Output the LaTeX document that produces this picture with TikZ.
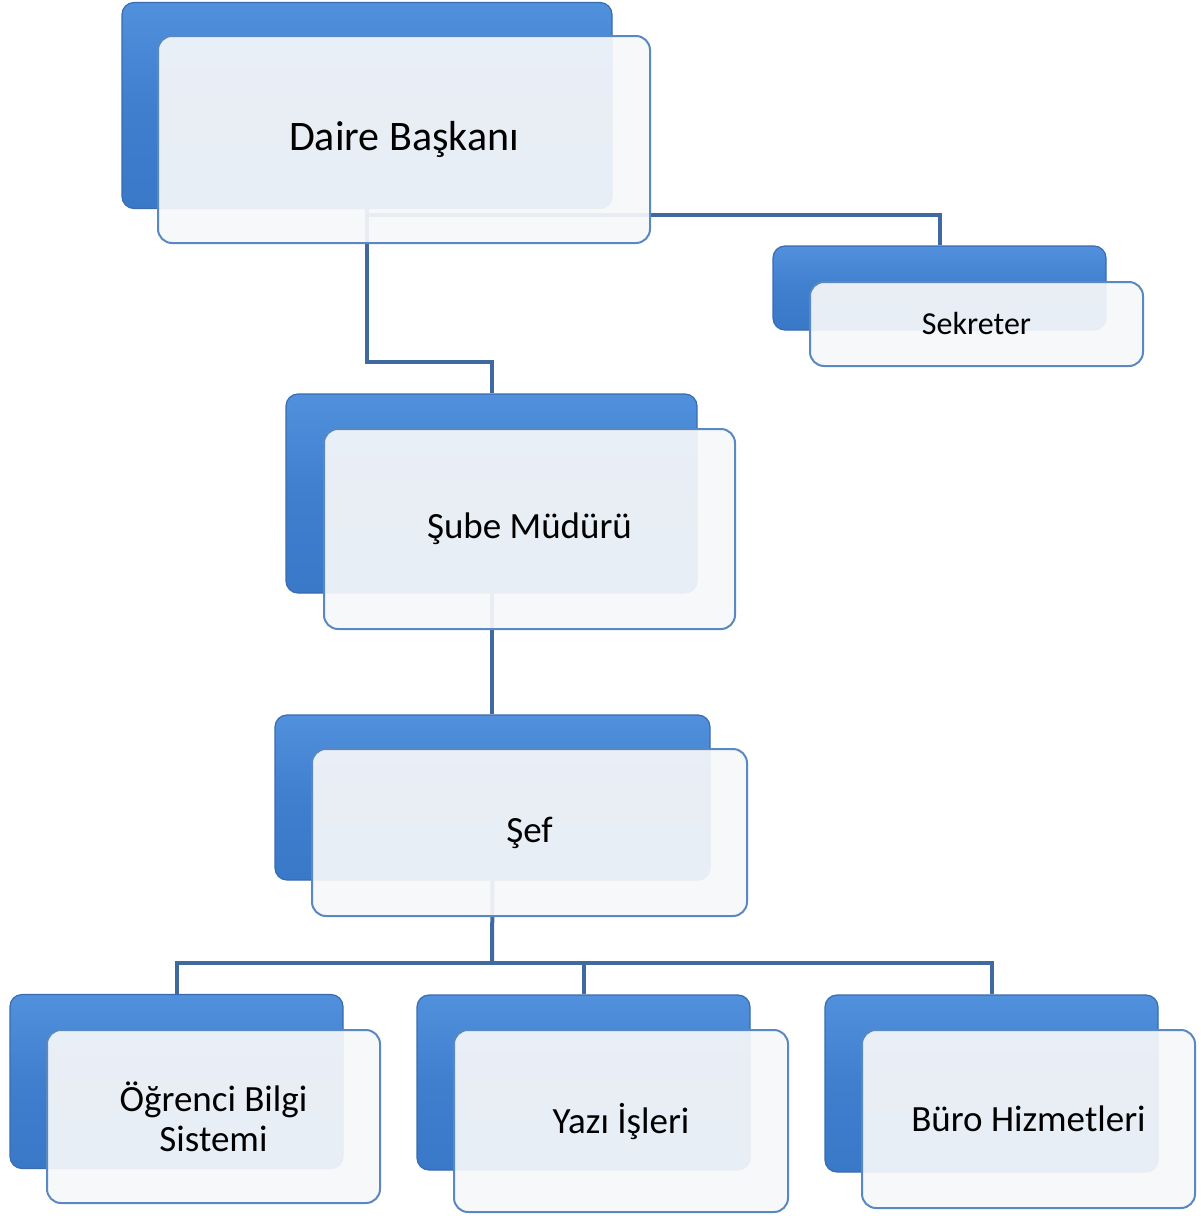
\documentclass[tikz,border=0pt]{standalone}
\usepackage{fontspec}
\setmainfont{Carlito}
\usetikzlibrary{positioning,calc}

\definecolor{linkblue}{HTML}{4069A0}
\definecolor{backtop}{HTML}{5090DC}
\definecolor{backmid}{HTML}{3F7FCE}
\definecolor{backbot}{HTML}{3A78C8}
\definecolor{backline}{HTML}{3A6BAE}
\definecolor{frontline}{HTML}{5A88C2}
\definecolor{frontfill}{HTML}{F6F7F9}

\begin{document}
\begin{tikzpicture}[
            x=0.5pt, y=-0.5pt,
            vback/.style={rectangle,rounded corners=6pt,draw=backline,line width=0.6pt,
                          top color=backtop,bottom color=backbot,middle color=backmid,inner sep=0pt},
            vfront/.style={rectangle,rounded corners=7pt,draw=frontline,line width=1pt,
                           fill=frontfill,fill opacity=0.93,text opacity=1,
                           inner sep=0pt,align=center,font=\fontsize{18.5pt}{20pt}\selectfont},
            link/.style={draw=linkblue,line width=2pt}
          ]
          \useasboundingbox (0,0) rectangle (1200,1216);

          % connectors
          \coordinate (j1) at (430,362);
          \coordinate (j2) at (700,215);
          \coordinate (j3) at (492,963);

          % back boxes
          \node[vback, minimum width=245pt, minimum height=103pt] (dback) at (367,105.5) {};
          \node[vback, minimum width=166.5pt, minimum height=42pt] (kback) at (939.5,288) {};
          \node[vback, minimum width=205.5pt, minimum height=99.5pt] (sback) at (491.5,493.5) {};
          \node[vback, minimum width=217.5pt, minimum height=82.5pt] (fback) at (492.5,797.5) {};
          \node[vback, minimum width=166.5pt, minimum height=87pt] (oback) at (176.5,1081.5) {};
          \node[vback, minimum width=166.5pt, minimum height=87.5pt] (yback) at (583.5,1082.5) {};
          \node[vback, minimum width=166.5pt, minimum height=88.5pt] (bback) at (991.5,1083.5) {};

          \draw[link] (dback.south) |- (j1) -| (sback.north);
          \draw[link] (dback.south) |- (j2) -| (kback.north);
          \draw[link] (sback.south) -- (sback.south |- fback.north);
          \draw[link] (fback.south) -- (j3);
          \draw[link] (j3) -| (oback.north);
          \draw[link] (j3) -| (yback.north);
          \draw[link] (j3) -| (bback.north);

          % front boxes
          \node[vfront, minimum width=246pt, minimum height=103.5pt,
                font=\fontsize{21pt}{25pt}\selectfont] (dfront) at (404,139.5) {Daire Başkanı};
          \node[vfront, minimum width=166.5pt, minimum height=42pt,
                font=\fontsize{16pt}{19pt}\selectfont] (kfront) at (976.5,324) {Sekreter};
          \node[vfront, minimum width=205.5pt, minimum height=100pt] (sfront) at (529.5,529) {Şube Müdürü};
          \node[vfront, minimum width=217.5pt, minimum height=83.5pt] (ffront) at (529.5,832.5) {Şef};
          \node[vfront, minimum width=166.5pt, minimum height=86.5pt] (ofront) at (213.5,1116.5) {Öğrenci Bilgi\\Sistemi};
          \node[vfront, minimum width=167pt, minimum height=91pt] (yfront) at (621,1121) {Yazı İşleri};
          \node[vfront, minimum width=166.5pt, minimum height=89pt] (bfront) at (1028.5,1119) {Büro Hizmetleri};
        \end{tikzpicture}
\end{document}
